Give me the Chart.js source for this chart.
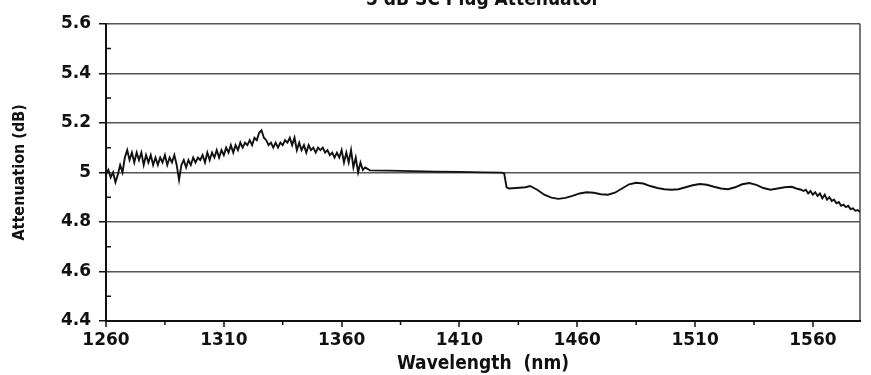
<!DOCTYPE html>
<html>
<head>
<meta charset="utf-8">
<script src="https://cdn.jsdelivr.net/npm/chart.js@4/dist/chart.umd.min.js"></script>
<style>
  html, body { margin: 0; padding: 0; background: #fff; overflow: hidden; }
  #wrap { width: 871px; height: 389px; margin-top: -14px; }
</style>
</head>
<body>
<div id="wrap"><canvas id="chart" width="871" height="389"></canvas></div>
<script>
// --- data ---
const wavelength = [
  1260,1261,1262,1263,1264,1265,1266,1267,1268,1269,
  1270,1271,1272,1273,1274,1275,1276,1277,1278,1279,
  1280,1281,1282,1283,1284,1285,1286,1287,1288,1289,
  1290,1291,1292,1293,1294,1295,1296,1297,1298,1299,
  1300,1301,1302,1303,1304,1305,1306,1307,1308,1309,
  1310,1311,1312,1313,1314,1315,1316,1317,1318,1319,
  1320,1321,1322,1323,1324,1325,1326,1327,1328,1329,
  1330,1331,1332,1333,1334,1335,1336,1337,1338,1339,
  1340,1341,1342,1343,1344,1345,1346,1347,1348,1349,
  1350,1351,1352,1353,1354,1355,1356,1357,1358,1359,
  1360,1361,1362,1363,1364,1365,1366,1367,1368,1369,
  1370,1372,1380,1390,1400,1410,1420,1428,1429,1430,
  1431,1434,1438,1440,1443,1446,1449,1452,1455,1458,
  1461,1464,1467,1470,1473,1476,1479,1482,1485,1488,
  1491,1494,1497,1500,1503,1506,1509,1512,1515,1518,
  1521,1524,1527,1530,1533,1536,1539,1542,1545,1548,
  1551,1553,1555,1556,1557,1558,1559,1560,1561,1562,
  1563,1564,1565,1566,1567,1568,1569,1570,1571,1572,
  1573,1574,1575,1576,1577,1578,1579,1580
];
const attenuation = [
  4.99,5.01,4.98,5.00,4.96,4.99,5.03,5.00,5.06,5.09,
  5.05,5.08,5.04,5.08,5.05,5.08,5.03,5.07,5.04,5.07,
  5.03,5.06,5.03,5.06,5.04,5.07,5.03,5.06,5.04,5.07,
  5.03,4.97,5.03,5.05,5.02,5.05,5.03,5.06,5.04,5.06,
  5.05,5.07,5.04,5.08,5.05,5.08,5.06,5.09,5.06,5.09,
  5.07,5.10,5.08,5.11,5.08,5.11,5.09,5.12,5.10,5.12,
  5.11,5.13,5.11,5.14,5.13,5.16,5.17,5.14,5.13,5.11,
  5.12,5.10,5.12,5.10,5.12,5.11,5.13,5.12,5.14,5.11,
  5.14,5.09,5.12,5.09,5.11,5.08,5.11,5.09,5.10,5.08,
  5.10,5.09,5.10,5.08,5.09,5.07,5.08,5.06,5.08,5.06,
  5.09,5.04,5.08,5.04,5.09,5.02,5.06,5.00,5.04,5.01,
  5.02,5.008,5.007,5.005,5.003,5.002,5.000,4.999,4.995,4.940,
  4.935,4.937,4.940,4.945,4.930,4.910,4.898,4.893,4.897,4.905,
  4.915,4.920,4.918,4.912,4.910,4.918,4.935,4.952,4.958,4.955,
  4.945,4.937,4.932,4.930,4.932,4.940,4.948,4.953,4.950,4.942,
  4.935,4.932,4.940,4.952,4.957,4.950,4.937,4.930,4.935,4.940,
  4.942,4.935,4.930,4.925,4.930,4.915,4.925,4.910,4.920,4.905,
  4.915,4.895,4.910,4.890,4.900,4.885,4.890,4.875,4.880,4.865,
  4.870,4.860,4.865,4.852,4.855,4.845,4.848,4.840
];

const xMin = 1260, xMax = 1580;
const xTickValues = [1260, 1310, 1360, 1410, 1460, 1510, 1560];
const xMinorTicks = [1285, 1335, 1385, 1435, 1485, 1535];
const yTickValues = [4.4, 4.6, 4.8, 5.0, 5.2, 5.4, 5.6];
const yMinorTicks = [4.5, 4.7, 4.9, 5.1, 5.3, 5.5];

const boldFont = "'DejaVu Sans', sans-serif";
const narrowFont = "'Liberation Sans Narrow', 'DejaVu Sans Condensed', sans-serif";

// small ticks between the labelled ones
const minorTicks = {
  id: "minorTicks",
  afterDraw(chart) {
    const { ctx, scales: { x, y }, chartArea } = chart;
    ctx.save();
    ctx.strokeStyle = "#111";
    ctx.lineWidth = 1.5;
    ctx.beginPath();
    xMinorTicks.forEach(v => {
      const px = x.getPixelForValue(v);
      ctx.moveTo(px, chartArea.bottom);
      ctx.lineTo(px, chartArea.bottom + 4);
    });
    yMinorTicks.forEach(v => {
      const py = y.getPixelForValue(v);
      ctx.moveTo(chartArea.left, py);
      ctx.lineTo(chartArea.left + 5, py);
    });
    ctx.stroke();
    ctx.restore();
  }
};

new Chart(document.getElementById("chart"), {
  type: "line",
  data: {
    datasets: [{
      data: wavelength.map((w, i) => ({ x: w, y: attenuation[i] })),
      borderColor: "#111",
      borderWidth: 1.9,
      pointRadius: 0,
      tension: 0,
      fill: false
    }]
  },
  options: {
    responsive: false,
    animation: false,
    layout: { padding: { left: 0, right: 11, top: 0, bottom: 0 } },
    plugins: {
      legend: { display: false },
      tooltip: { enabled: false },
      title: {
        display: true,
        fullSize: false,
        text: "5 dB SC Plug Attenuator",
        color: "#111",
        font: { family: narrowFont, size: 19, weight: "bold" },
        padding: { top: 3, bottom: 12 }
      }
    },
    scales: {
      x: {
        type: "linear",
        min: xMin,
        max: xMax,
        afterBuildTicks: s => { s.ticks = xTickValues.concat([xMax]).map(v => ({ value: v })); },
        afterFit: s => { s.height = 54; },
        ticks: {
          color: "#111",
          font: { family: boldFont, size: 17, weight: "bold" },
          padding: 3,
          maxRotation: 0,
          autoSkip: false,
          callback: v => (xTickValues.includes(v) ? String(v) : "")
        },
        grid: {
          drawOnChartArea: true,
          color: c => (c.tick && c.tick.value === xMax ? "#777" : "rgba(0,0,0,0)"),
          lineWidth: 2,
          tickColor: c => (c.tick && c.tick.value === xMax ? "rgba(0,0,0,0)" : "#111"),
          tickLength: 6,
          tickWidth: 1.5
        },
        border: { color: "#111", width: 2 },
        title: {
          display: true,
          text: "Wavelength  (nm)",
          color: "#111",
          font: { family: narrowFont, size: 19, weight: "bold" },
          padding: { top: 0, bottom: 0 }
        }
      },
      y: {
        min: 4.4,
        max: 5.6,
        afterBuildTicks: s => { s.ticks = yTickValues.map(v => ({ value: v })); },
        afterFit: s => { s.width = 106; },
        ticks: {
          color: "#111",
          font: { family: boldFont, size: 17, weight: "bold" },
          padding: 8,
          callback: v => String(Math.round(v * 10) / 10)
        },
        grid: {
          color: "#555",
          lineWidth: 1.5,
          tickColor: "#111",
          tickLength: 7,
          tickWidth: 1.5
        },
        border: { color: "#111", width: 2 },
        title: {
          display: true,
          text: "Attenuation (dB)",
          color: "#111",
          font: { family: narrowFont, size: 16, weight: "bold" },
          padding: { top: 10, bottom: 0 }
        }
      }
    }
  },
  plugins: [minorTicks]
});
</script>
</body>
</html>
